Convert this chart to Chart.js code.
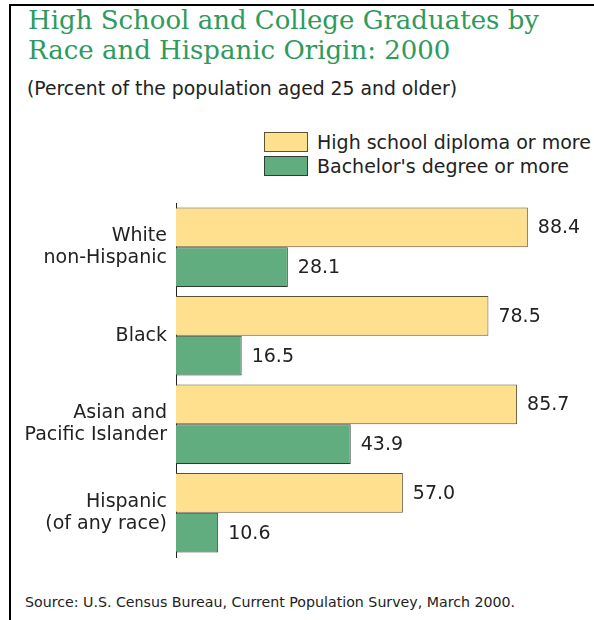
<!DOCTYPE html>
<html>
<head>
<meta charset="utf-8">
<script src="https://cdn.jsdelivr.net/npm/chart.js@4"></script>
<style>
  body { margin: 0; background: #fff; width: 594px; height: 620px; position: relative; overflow: hidden; font-family: "DejaVu Sans", sans-serif; color: #222; }
  #frame { position: absolute; left: 9px; top: 4px; width: 600px; height: 640px; border-top: 2px solid #000; border-left: 2px solid #000; }
  #title { position: absolute; left: 28px; top: 5px; font-family: "DejaVu Serif", serif; font-size: 26px; line-height: 30px; color: #2e9a5c; white-space: nowrap; }
  #subtitle { position: absolute; left: 27px; top: 78px; font-size: 18.8px; white-space: nowrap; }
  #legend { position: absolute; left: 264px; top: 130px; font-size: 19px; }
  .item { display: flex; align-items: center; height: 24px; white-space: nowrap; }
  .swatch { width: 42px; height: 18px; margin-right: 9px; border: 1px solid; }
  #source { position: absolute; left: 25px; top: 594px; font-size: 14.2px; white-space: nowrap; }
  #wrap { position: absolute; left: 0; top: 190px; width: 594px; height: 380px; }
</style>
</head>
<body>
<div id="frame"></div>
<div id="title">High School and College Graduates by<br>Race and Hispanic Origin: 2000</div>
<div id="subtitle">(Percent of the population aged 25 and older)</div>
<div id="legend"></div>
<div id="wrap"><canvas id="chart"></canvas></div>
<div id="source">Source: U.S. Census Bureau, Current Population Survey, March 2000.</div>

<script>
// Data
const categories = [
  ['White', 'non-Hispanic'],
  ['Black'],
  ['Asian and', 'Pacific Islander'],
  ['Hispanic', '(of any race)']
];
const seriesNames = ['High school diploma or more', "Bachelor's degree or more"];
const highSchool = [88.4, 78.5, 85.7, 57.0];
const bachelor = [28.1, 16.5, 43.9, 10.6];

const fills = ['#fee08e', '#62ad80'];
const borders = ['#5e5230', '#2c3d31'];

// Simple HTML legend, rows left aligned like the original
const legend = document.getElementById('legend');
seriesNames.forEach((name, i) => {
  const row = document.createElement('div');
  row.className = 'item';
  row.innerHTML = `<span class="swatch" style="background:${fills[i]};border-color:${borders[i]}"></span>${name}`;
  legend.appendChild(row);
});

// Draw the value next to the end of each bar
const valueLabels = {
  id: 'valueLabels',
  afterDatasetsDraw(chart) {
    const ctx = chart.ctx;
    ctx.save();
    ctx.font = '19px "DejaVu Sans"';
    ctx.fillStyle = '#222';
    ctx.textBaseline = 'middle';
    chart.data.datasets.forEach((ds, i) => {
      chart.getDatasetMeta(i).data.forEach((bar, j) => {
        ctx.fillText(ds.data[j].toFixed(1), bar.x + 10, bar.y + 1);
      });
    });
    ctx.restore();
  }
};

new Chart(document.getElementById('chart'), {
  type: 'bar',
  data: {
    labels: categories,
    datasets: [
      { label: seriesNames[0], data: highSchool, backgroundColor: fills[0], borderColor: borders[0], borderWidth: 1 },
      { label: seriesNames[1], data: bachelor, backgroundColor: fills[1], borderColor: borders[1], borderWidth: 1 }
    ]
  },
  options: {
    indexAxis: 'y',
    responsive: true,
    maintainAspectRatio: false,
    animation: false,
    categoryPercentage: 0.9,
    barPercentage: 1.0,
    layout: { padding: { top: 13, bottom: 13, right: 20, left: 0 } },
    plugins: {
      legend: { display: false },
      tooltip: { enabled: false }
    },
    scales: {
      x: { display: false, min: 0, max: 100 },
      y: {
        // fixed width so the axis sits where it does in the original,
        // and no extra room for the two-line labels at top and bottom
        afterFit(scale) {
          scale.width = 176;
          scale.paddingTop = 0;
          scale.paddingBottom = 0;
        },
        grid: { display: false, drawTicks: false },
        border: { display: true, color: '#222', width: 1 },
        ticks: {
          padding: 9,
          color: '#222',
          font: { family: 'DejaVu Sans', size: 19, lineHeight: 1.15 }
        }
      }
    }
  },
  plugins: [valueLabels]
});
</script>
</body>
</html>
